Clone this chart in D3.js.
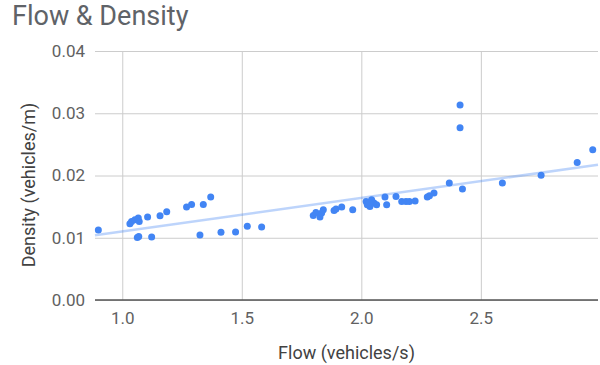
<!DOCTYPE html>
<html>
<head>
<meta charset="utf-8">
<script src="https://cdn.jsdelivr.net/npm/d3@7"></script>
<style>
  body { margin: 0; background: #fff; }
  text { font-family: Roboto, "Noto Sans", sans-serif; }
</style>
</head>
<body>
<svg id="chart"></svg>
<script>
// flow (vehicles/s) and density (vehicles/m)
var flow = [0.90, 1.032, 1.039, 1.053, 1.067, 1.071, 1.063, 1.069, 1.106, 1.123,
  1.158, 1.186, 1.269, 1.290, 1.339, 1.370, 1.325, 1.413, 1.474, 1.523, 1.583,
  1.799, 1.810, 1.827, 1.834, 1.841, 1.886, 1.894, 1.918, 1.964,
  2.020, 2.025, 2.036, 2.043, 2.053, 2.064, 2.033, 2.099, 2.106, 2.145,
  2.169, 2.187, 2.201, 2.225, 2.276, 2.285, 2.304, 2.368, 2.423,
  2.413, 2.413, 2.590, 2.752, 2.903, 2.968];
var density = [0.01125, 0.01226, 0.01263, 0.0129, 0.01317, 0.0126, 0.01006, 0.0102, 0.01333, 0.01013,
  0.01354, 0.01418, 0.01494, 0.01535, 0.01535, 0.01654, 0.01045, 0.01087, 0.01093, 0.01183, 0.01173,
  0.01359, 0.01407, 0.01333, 0.01397, 0.0145, 0.01439, 0.01461, 0.01494, 0.0145,
  0.01584, 0.0153, 0.01504, 0.0161, 0.01557, 0.0153, 0.01568, 0.01654, 0.0153, 0.01664,
  0.01584, 0.01584, 0.01584, 0.0159, 0.01654, 0.01675, 0.01718, 0.01878, 0.01782,
  0.03133, 0.02769, 0.01878, 0.02006, 0.02208, 0.02412];
var xTicks = [1.0, 1.5, 2.0, 2.5];
var yTicks = [0, 0.01, 0.02, 0.03, 0.04];
var xDomain = [0.886, 2.99];
var yDomain = [0, 0.04];

var width = 600, height = 365;
var padL = 95, padR = 598, padT = 51, padB = 300;
var blue = "#4285f4";

var svg = d3.select("#chart").attr("width", width).attr("height", height);

var x = d3.scaleLinear().domain(xDomain).range([padL, padR]);
var y = d3.scaleLinear().domain(yDomain).range([padB, padT]);

// title
svg.append("text").attr("x", 12).attr("y", 25)
  .text("Flow & Density")
  .style("font-size", "27px").style("fill", "#5f6368");

// horizontal gridlines + labels
var yAxis = d3.axisLeft(y).tickValues(yTicks).tickFormat(d3.format(".2f"))
  .tickSize(-(padR - padL)).tickPadding(10);
var gy = svg.append("g").attr("transform", "translate(" + padL + ",0)").call(yAxis);
gy.select(".domain").remove();
gy.selectAll("line").attr("stroke", "#cccccc");
gy.selectAll("text").style("font-size", "17px").style("fill", "#616161");

// vertical gridlines + labels
var xAxis = d3.axisBottom(x).tickValues(xTicks).tickFormat(d3.format(".1f"))
  .tickSize(-(padB - padT)).tickPadding(12);
var gx = svg.append("g").attr("transform", "translate(0," + padB + ")").call(xAxis);
gx.select(".domain").remove();
gx.selectAll("line").attr("stroke", "#cccccc");
gx.selectAll("text").style("font-size", "17px").style("fill", "#616161");

// baseline
svg.append("line").attr("x1", padL).attr("x2", padR)
  .attr("y1", y(0)).attr("y2", y(0))
  .attr("stroke", "#555").attr("stroke-width", 1.5);

// axis titles
svg.append("text").attr("x", (padL + padR) / 2).attr("y", 359)
  .attr("text-anchor", "middle").text("Flow (vehicles/s)")
  .style("font-size", "18px").style("fill", "#424242");
svg.append("text")
  .attr("transform", "translate(35,185) rotate(-90)")
  .attr("text-anchor", "middle").text("Density (vehicles/m)")
  .style("font-size", "18px").style("fill", "#424242");

// linear trendline (least squares over the points)
var mx = d3.mean(flow), my = d3.mean(density);
var sxy = d3.sum(flow, function (d, i) { return (d - mx) * (density[i] - my); });
var sxx = d3.sum(flow, function (d) { return (d - mx) * (d - mx); });
var slope = sxy / sxx, icpt = my - slope * mx;
svg.append("line")
  .attr("x1", x(xDomain[0])).attr("y1", y(icpt + slope * xDomain[0]))
  .attr("x2", x(xDomain[1])).attr("y2", y(icpt + slope * xDomain[1]))
  .attr("stroke", blue).attr("stroke-opacity", 0.35).attr("stroke-width", 2.5);

// points
svg.append("g").selectAll("circle")
  .data(flow)
  .enter().append("circle")
  .attr("cx", function (d) { return x(d); })
  .attr("cy", function (d, i) { return y(density[i]); })
  .attr("r", 3.5)
  .attr("fill", blue);
</script>
</body>
</html>
